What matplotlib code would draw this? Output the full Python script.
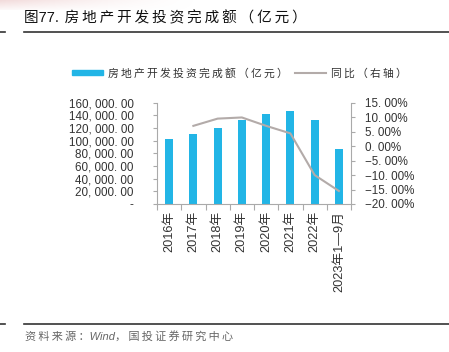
import matplotlib
matplotlib.use("Agg")
import matplotlib.pyplot as plt
import numpy as np
from matplotlib.lines import Line2D
from matplotlib.patches import Patch

categories = ["2016年", "2017年", "2018年", "2019年", "2020年", "2021年", "2022年", "2023年1—9月"]
investment = [102500, 110200, 120300, 132300, 141500, 147600, 132900, 87300]
yoy_x = ["2017年", "2018年", "2019年", "2020年", "2021年", "2022年", "2023年1—9月"]
yoy = [7.0, 9.5, 9.9, 7.0, 4.4, -10.0, -15.5]
left_ticks = [0, 20000, 40000, 60000, 80000, 100000, 120000, 140000, 160000]
left_labels = ["-", "20, 000. 00", "40, 000. 00", "60, 000. 00", "80, 000. 00",
               "100, 000. 00", "120, 000. 00", "140, 000. 00", "160, 000. 00"]
right_ticks = [-20, -15, -10, -5, 0, 5, 10, 15]
right_labels = ["\u221220. 00%", "\u221215. 00%", "\u221210. 00%", "\u22125. 00%",
                "0. 00%", "5. 00%", "10. 00%", "15. 00%"]

FONT = ["Liberation Sans", "Noto Sans CJK SC", "DejaVu Sans"]
CJK = ["Noto Sans CJK SC", "DejaVu Sans"]
plt.rcParams['font.family'] = FONT


def spaced(s, sp="\u2009"):
    out = ""
    for i, ch in enumerate(s):
        out += ch
        if i < len(s) - 1:
            nxt = s[i + 1]
            if (ord(ch) > 0x2E80 and ord(nxt) > 0x2E80):
                out += sp
    return out


W, H = 449, 352
fig = plt.figure(figsize=(W / 100, H / 100), dpi=100)

# top-left pinkish gradient
bg = fig.add_axes([0, 1 - 10 / H, 200 / W, 10 / H])
grad = np.zeros((10, 200, 4))
xs = np.linspace(1, 0, 200)
ys = np.linspace(1, 0.2, 10)[:, None]
grad[..., 0] = 0.93
grad[..., 1] = 0.80
grad[..., 2] = 0.80
grad[..., 3] = (xs[None, :] ** 1.5) * ys * 0.7
bg.imshow(grad, aspect='auto', extent=[0, 1, 0, 1])
bg.axis('off')


def fx(px):
    return px / W


def fy(py):
    return 1 - py / H


ax = fig.add_axes([fx(157), fy(204), (351 - 157) / W, (204 - 102.7) / H])
x = np.arange(len(categories))
ax.bar(x, investment, width=0.32, color="#22B5E6", zorder=2)
ax.set_xlim(-0.5, len(categories) - 0.5)
ax.set_ylim(0, 160000)
ax.set_yticks(left_ticks)
ax.set_yticklabels(left_labels, fontsize=8.4, color="#333333")
ax.set_xticks(np.arange(-0.5, len(categories), 1.0))
ax.set_xticklabels([])
ax.set_xticks(x, minor=True)
ax.set_xticklabels(categories, minor=True, rotation=90,
                   fontsize=9.2, color="#333333", family=FONT)
ax.tick_params(axis='x', which='minor', length=0, pad=5)
ax.tick_params(axis='x', which='major', length=4, color="#AAAAAA", direction='out')
ax.tick_params(axis='y', length=3, color="#AAAAAA", pad=14)
for s in ['top', 'right']:
    ax.spines[s].set_visible(False)
ax.spines['left'].set_color("#AAAAAA")
ax.spines['bottom'].set_color("#AAAAAA")

ax2 = ax.twinx()
xi = [categories.index(c) for c in yoy_x]
ax2.plot(xi, yoy, color="#B3ABA9", linewidth=1.5, zorder=3)
ax2.set_ylim(-20, 15)
ax2.set_yticks(right_ticks)
ax2.set_yticklabels(right_labels, fontsize=8.4, color="#333333")
ax2.tick_params(axis='y', length=3, color="#AAAAAA", pad=7)
for s in ['top', 'left', 'bottom']:
    ax2.spines[s].set_visible(False)
ax2.spines['right'].set_color("#AAAAAA")

# legend
handles = [Patch(color="#22B5E6"), Line2D([0], [0], color="#B3ABA9", lw=1.5)]
fig.legend(handles, [spaced("房地产开发投资完成额（亿元）"), spaced("同比（右轴）")],
           loc='center left', bbox_to_anchor=(fx(72), fy(73)), ncol=2, frameon=False,
           prop={'family': CJK, 'size': 7.8}, handlelength=2.9, handleheight=0.45,
           columnspacing=0.6, handletextpad=0.45, labelcolor="#333333", borderpad=0,
           borderaxespad=0)

# title and rules
fig.text(fx(24), fy(18), spaced("图77.\u2009\u2009房地产开发投资完成额（亿元）"), fontsize=10.5,
         color="#111111", va='center', ha='left', family=FONT, fontweight='normal')
for yy in (32, 324):
    fig.add_artist(Line2D([fx(24), 1], [fy(yy), fy(yy)], color="#333333", lw=1.2))
    fig.add_artist(Line2D([0, fx(5)], [fy(yy), fy(yy)], color="#333333", lw=1.2))
fig.text(fx(25), fy(336), spaced("资料来源：Wind，国投证券研究中心", "\u2009"), fontsize=8,
         color="#666666", va='center', ha='left', family=FONT, style='italic')

fig.savefig("out.png", dpi=100)
